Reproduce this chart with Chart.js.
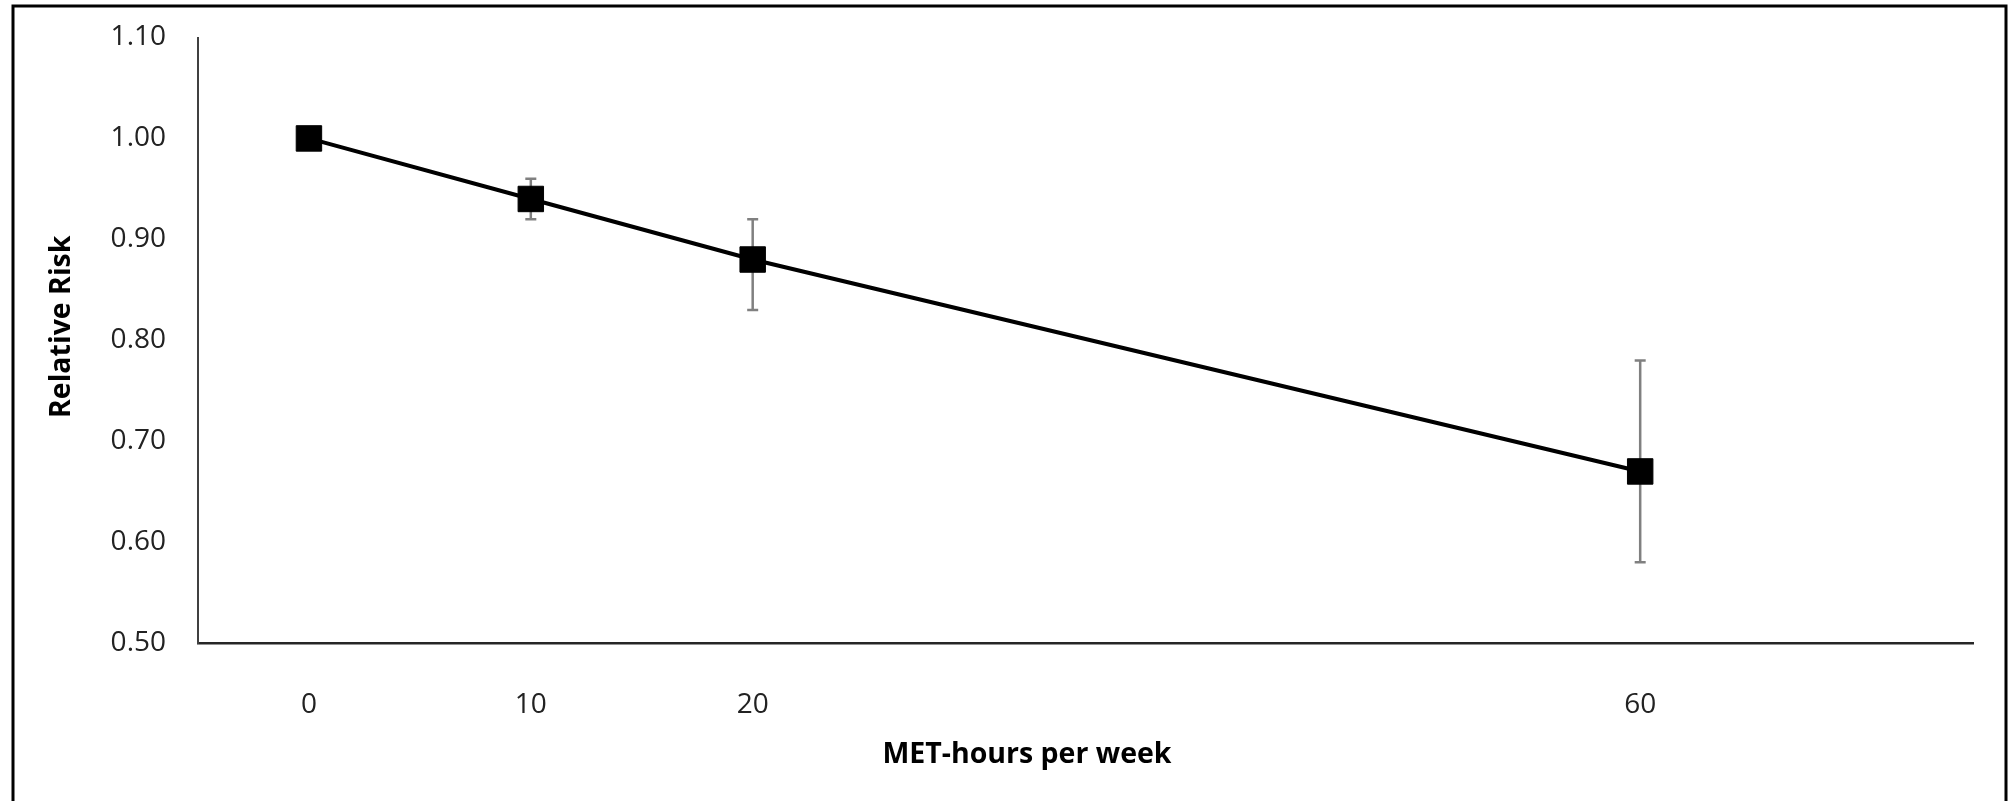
<!DOCTYPE html>
<html>
<head>
<meta charset="utf-8">
<title>Relative Risk by MET-hours per week</title>
<script src="https://cdn.jsdelivr.net/npm/chart.js@4.4.1/dist/chart.umd.min.js"></script>
<style>
  html, body { margin: 0; padding: 0; background: #ffffff; }
  canvas { display: block; }
</style>
</head>
<body>
<canvas id="chart" width="2011" height="801"></canvas>
<script>
// MET-hours per week and the relative risk estimate with its 95% CI
const metHours = [0, 10, 20, 60];
const relativeRisk = [1.00, 0.94, 0.88, 0.67];
const ciLower = [null, 0.92, 0.83, 0.58];
const ciUpper = [null, 0.96, 0.92, 0.78];

// Axis ticks
const xTickValues = [0, 10, 20, 60];
const yMin = 0.50, yMax = 1.10, yStep = 0.10;

const xTitle = 'MET-hours per week';
const yTitle = 'Relative Risk';

const TICK_FONT = { family: '"Open Sans", sans-serif', size: 28 };
const TITLE_FONT = 'bold 28.5px "Open Sans", sans-serif';

// Vertical confidence-interval whiskers with short caps
const errorBars = {
  id: 'errorBars',
  beforeDatasetsDraw(chart) {
    const { ctx, scales: { x, y } } = chart;
    ctx.save();
    ctx.strokeStyle = '#808080';
    ctx.lineWidth = 2.5;
    metHours.forEach((m, i) => {
      if (ciLower[i] == null || ciUpper[i] == null) return;
      const px = x.getPixelForValue(m);
      const lo = y.getPixelForValue(ciLower[i]);
      const hi = y.getPixelForValue(ciUpper[i]);
      ctx.beginPath();
      ctx.moveTo(px, lo); ctx.lineTo(px, hi);
      ctx.moveTo(px - 5.5, lo); ctx.lineTo(px + 5.5, lo);
      ctx.moveTo(px - 5.5, hi); ctx.lineTo(px + 5.5, hi);
      ctx.stroke();
    });
    ctx.restore();
  }
};

// Axis titles and the outer frame
const decorations = {
  id: 'decorations',
  afterDraw(chart) {
    const { ctx } = chart;
    ctx.save();
    ctx.fillStyle = '#000000';
    ctx.font = TITLE_FONT;
    ctx.textAlign = 'center';
    ctx.textBaseline = 'alphabetic';
    ctx.fillText(xTitle, 1027, 763);

    ctx.translate(70, 418);
    ctx.rotate(-Math.PI / 2);
    ctx.textAlign = 'left';
    ctx.fillText(yTitle, 0, 0);
    ctx.restore();

    ctx.save();
    ctx.strokeStyle = '#000000';
    ctx.lineWidth = 3;
    ctx.beginPath();
    ctx.moveTo(13, 801);
    ctx.lineTo(13, 6);
    ctx.lineTo(2006, 6);
    ctx.lineTo(2006, 801);
    ctx.stroke();
    ctx.restore();
  }
};

new Chart(document.getElementById('chart'), {
  type: 'line',
  data: {
    datasets: [{
      data: metHours.map((m, i) => ({ x: m, y: relativeRisk[i] })),
      borderColor: '#000000',
      borderWidth: 4,
      backgroundColor: '#000000',
      pointStyle: 'rect',
      pointRadius: 18,
      pointBorderWidth: 1,
      pointBorderColor: '#000000',
      pointBackgroundColor: '#000000',
      tension: 0,
      fill: false
    }]
  },
  options: {
    responsive: false,
    animation: false,
    events: [],
    layout: { padding: { left: 0, right: 38, top: 37.5, bottom: 0 } },
    plugins: {
      legend: { display: false },
      tooltip: { enabled: false },
      title: { display: false }
    },
    scales: {
      x: {
        type: 'linear',
        min: -5,
        max: 75,
        afterBuildTicks(scale) {
          scale.ticks = xTickValues.map(v => ({ value: v }));
        },
        afterFit(scale) {
          scale.height = 158;
          scale.paddingLeft = 0;
          scale.paddingRight = 0;
        },
        grid: { display: false, drawTicks: false },
        border: { display: true, color: '#262626', width: 2.5 },
        ticks: {
          padding: 45,
          color: '#222222',
          font: TICK_FONT,
          maxRotation: 0,
          autoSkip: false,
          callback: v => String(v)
        }
      },
      y: {
        min: yMin,
        max: yMax,
        afterFit(scale) {
          scale.width = 198;
          scale.paddingTop = 0;
          scale.paddingBottom = 0;
        },
        grid: { display: false, drawTicks: false },
        border: { display: true, color: '#404040', width: 2 },
        ticks: {
          stepSize: yStep,
          padding: 32,
          color: '#222222',
          font: TICK_FONT,
          callback: v => Number(v).toFixed(2)
        }
      }
    }
  },
  plugins: [errorBars, decorations]
});
</script>
</body>
</html>
